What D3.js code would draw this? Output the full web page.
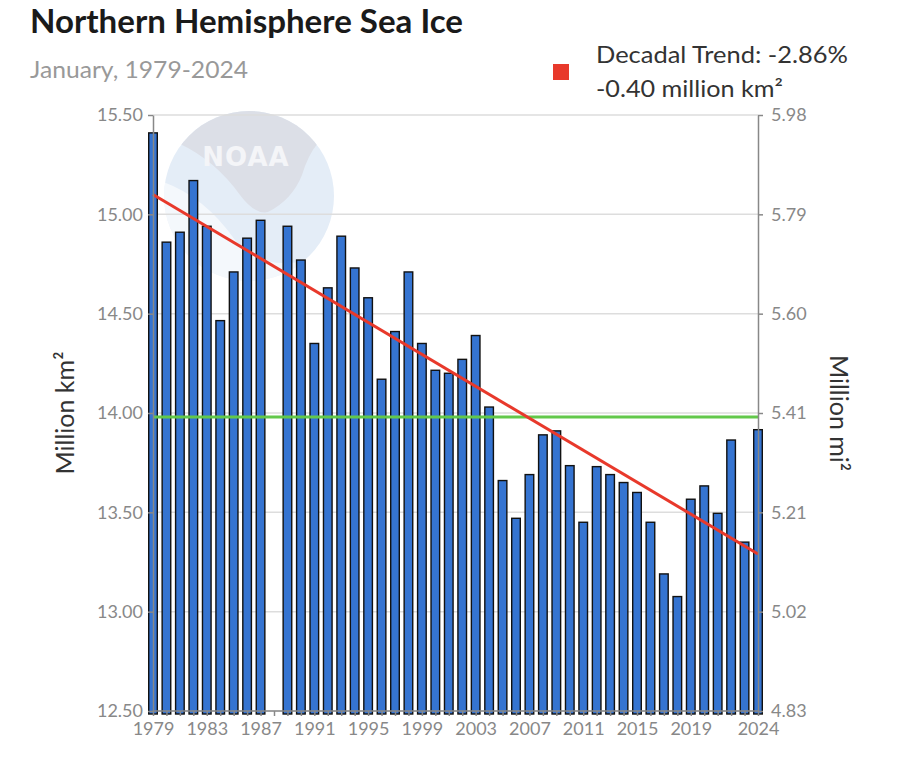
<!DOCTYPE html>
<html><head><meta charset="utf-8">
<script src="https://cdn.jsdelivr.net/npm/d3@7"></script>
<style>body{margin:0;background:#fff}svg{display:block}</style>
</head><body><svg id="c" width="900" height="760"></svg>
<script>
const years = d3.range(1979, 2025);
const extentKm2 = [15.41,14.86,14.91,15.17,14.94,14.465,14.71,14.88,14.97,null,14.94,14.77,14.35,14.63,14.89,14.73,14.58,14.17,14.41,14.71,14.35,14.215,14.20,14.27,14.39,14.03,13.66,13.47,13.69,13.89,13.91,13.735,13.45,13.73,13.69,13.65,13.60,13.45,13.19,13.076,13.566,13.633,13.495,13.864,13.35,13.916];
const averageKm2 = 13.98;
const trendStart = 15.10, trendEnd = 13.29;
const yTicksKm2 = [12.5,13.0,13.5,14.0,14.5,15.0,15.5];
const xTickLabels = [1979,1983,1987,1991,1995,1999,2003,2007,2011,2015,2019,2024];
const km2ToMi2 = 0.386102;

const svg = d3.select("#c");
const font = "Lato, 'Noto Sans', sans-serif";
const L = 153, R = 758, T = 115, B = 711;
const x = d3.scaleLinear().domain([1979, 2024]).range([L, R]);
const y = d3.scaleLinear().domain([12.5, 15.5]).range([B, T]);
const y2 = d3.scaleLinear().domain([12.5*km2ToMi2, 15.5*km2ToMi2]).range([B, T]);

// title
svg.append("text").attr("x", 30).attr("y", 33).attr("font-family", font).attr("font-weight", 700)
  .attr("font-size", 32).attr("fill", "#1a1a1a").attr("textLength", 433).attr("lengthAdjust", "spacingAndGlyphs")
  .text("Northern Hemisphere Sea Ice");
svg.append("text").attr("x", 30).attr("y", 78).attr("font-family", font)
  .attr("font-size", 23).attr("fill", "#999").attr("textLength", 218).attr("lengthAdjust", "spacingAndGlyphs")
  .text("January, 1979-2024");

// legend
svg.append("rect").attr("x", 553).attr("y", 64).attr("width", 16).attr("height", 16).attr("fill", "#e8392b");
svg.append("text").attr("x", 596).attr("y", 63).attr("font-family", font).attr("font-size", 24).attr("fill", "#333")
  .attr("textLength", 252).attr("lengthAdjust", "spacingAndGlyphs").text("Decadal Trend: -2.86%");
svg.append("text").attr("x", 596).attr("y", 97).attr("font-family", font).attr("font-size", 24).attr("fill", "#333")
  .attr("textLength", 187).attr("lengthAdjust", "spacingAndGlyphs").text("-0.40 million km²");

// NOAA watermark
const wm = svg.append("g");
wm.append("clipPath").attr("id", "wmc").append("circle").attr("cx", 249).attr("cy", 196).attr("r", 85);
const wg = wm.append("g").attr("clip-path", "url(#wmc)");
wg.append("rect").attr("x", 160).attr("y", 105).attr("width", 180).attr("height", 180).attr("fill", "#e4edf7");
wg.append("path").attr("d", "M150,178 Q200,190 235,240 Q255,268 300,262 Q330,250 345,230 L345,300 L150,300 Z").attr("fill", "#fff").attr("opacity", 0.6);
wg.append("path").attr("d", "M160,140 L178,143 Q215,160 240,195 Q255,215 268,212 Q292,200 302,175 Q308,155 318,143 L340,140 L340,100 L160,100 Z").attr("fill", "#dcdfe7");
wm.append("text").attr("x", 246).attr("y", 166).attr("text-anchor", "middle").attr("font-family", "'DejaVu Sans', sans-serif")
  .attr("font-weight", 700).attr("font-size", 26).attr("letter-spacing", 1).attr("fill", "#f4f5f8").text("NOAA");

// gridlines
svg.append("g").selectAll("line").data(yTicksKm2).join("line")
  .attr("x1", L).attr("x2", R).attr("y1", d => y(d)).attr("y2", d => y(d))
  .attr("stroke", "#ddd").attr("stroke-width", 1.5);

// bars
const data = years.map((yr, i) => ({yr, v: extentKm2[i]})).filter(d => d.v != null);
svg.append("g").selectAll("rect").data(data).join("rect")
  .attr("x", d => x(d.yr) - 4.3).attr("width", 8.6)
  .attr("y", d => y(d.v)).attr("height", d => B + 3 - y(d.v))
  .attr("fill", "#3574d1").attr("stroke", "#111").attr("stroke-width", 1.4);

// average line
svg.append("line").attr("x1", L).attr("x2", R).attr("y1", y(averageKm2)).attr("y2", y(averageKm2))
  .attr("stroke", "#62c84a").attr("stroke-width", 3);
// trend
svg.append("line").attr("x1", x(1979)).attr("x2", x(2024)).attr("y1", y(trendStart)).attr("y2", y(trendEnd))
  .attr("stroke", "#e8392b").attr("stroke-width", 3);

// axes
const axStyle = g => {
  g.selectAll("path, line").attr("stroke", "#888").attr("stroke-width", 1.5);
  g.selectAll("text").attr("font-family", font).attr("font-size", 18).attr("fill", "#888");
};
svg.append("g").attr("transform", `translate(${L},0)`)
  .call(d3.axisLeft(y).tickValues(yTicksKm2).tickFormat(d3.format(".2f")).tickSize(5).tickSizeOuter(0).tickPadding(5))
  .call(axStyle);
svg.append("g").attr("transform", `translate(${R},0)`)
  .call(d3.axisRight(y2).tickValues(yTicksKm2.map(v => v*km2ToMi2)).tickFormat(d3.format(".2f")).tickSize(5).tickSizeOuter(0).tickPadding(8))
  .call(axStyle);
const xa = svg.append("g").attr("transform", `translate(0,${B})`)
  .call(d3.axisBottom(x).tickValues(years).tickFormat(d => xTickLabels.includes(d) ? d : "").tickSize(5).tickSizeOuter(0).tickPadding(6))
  .call(axStyle);
xa.select(".domain").attr("d", `M${L},0H${R}`);

// axis titles
svg.append("text").attr("transform", `translate(74,${y(14.0)}) rotate(-90)`).attr("text-anchor", "middle")
  .attr("font-family", font).attr("font-size", 25).attr("fill", "#333").text("Million km²");
svg.append("text").attr("transform", `translate(830,${y(14.0)}) rotate(90)`).attr("text-anchor", "middle")
  .attr("font-family", font).attr("font-size", 25).attr("fill", "#333").text("Million mi²");
</script></body></html>
